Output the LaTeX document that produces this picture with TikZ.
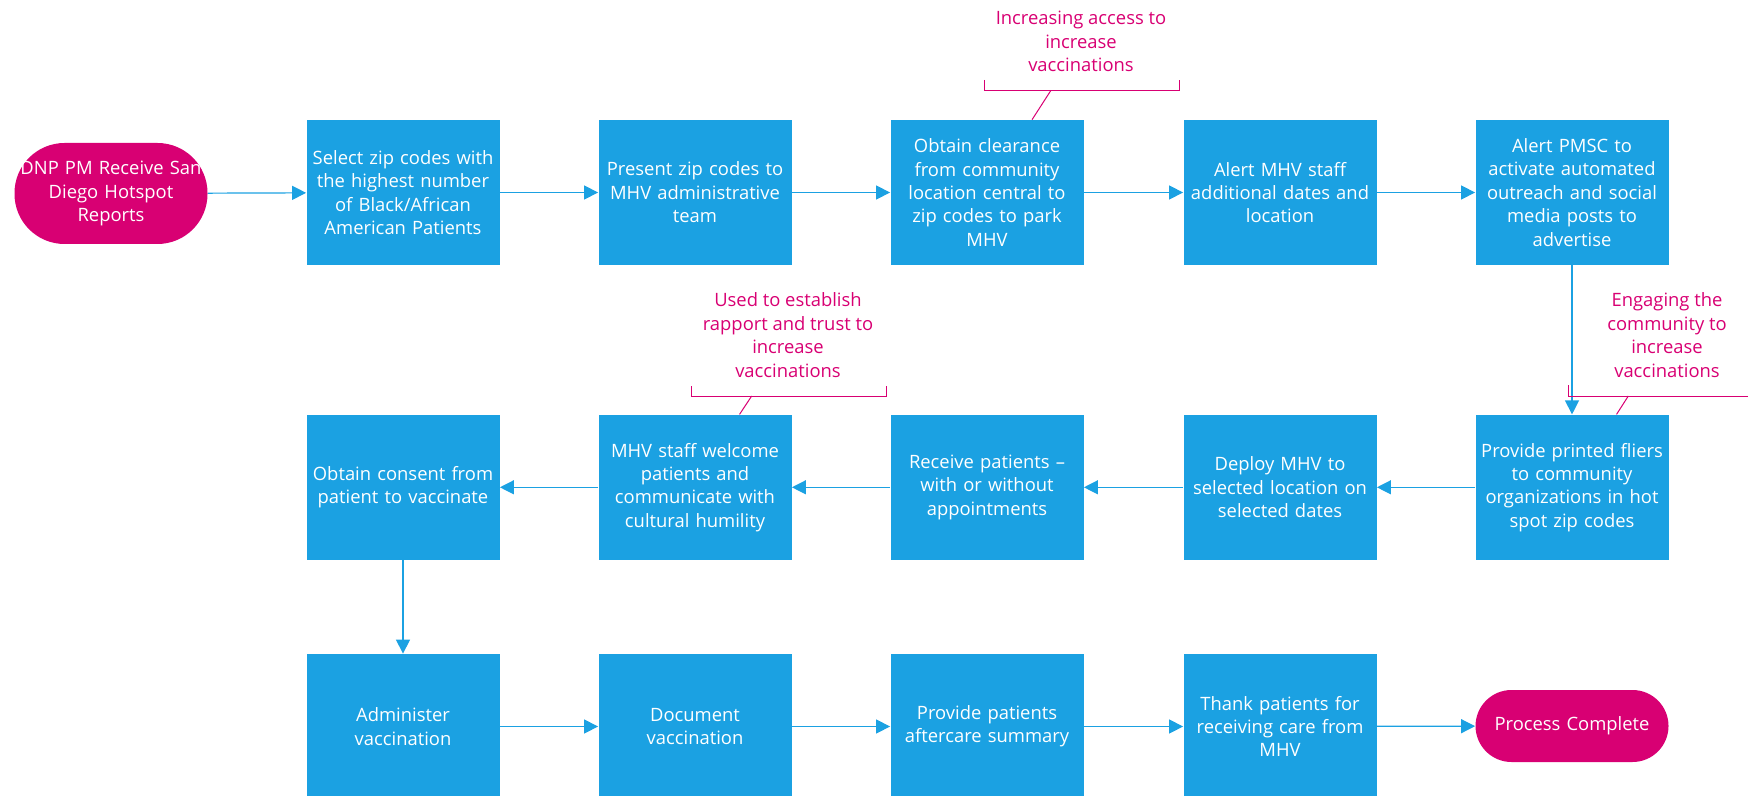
\documentclass[tikz,border=0pt]{standalone}
\usepackage{fontspec}
\setmainfont{Open Sans}
\usetikzlibrary{arrows.meta}
\definecolor{mhvblue}{HTML}{1BA1E2}
\definecolor{mhvpink}{HTML}{D80073}

\begin{document}
\begin{tikzpicture}[
    x=0.5pt, y=-0.5pt,
    >={Triangle[length=7pt,width=7pt]},
    font=\fontsize{9.2}{11.7}\selectfont,
    stepbox/.style={rectangle, fill=mhvblue, text=white,
                    minimum width=96.5pt, minimum height=72.5pt,
                    text width=96pt, align=center, inner sep=0pt},
    terminal/.style={rectangle, fill=mhvpink, text=white,
                     minimum width=96.5pt, text width=96pt,
                     align=center, inner sep=0pt},
    flow/.style={->, mhvblue, line width=0.6pt},
    note/.style={text=mhvpink, align=center},
    bracket/.style={mhvpink, line width=0.5pt},
]

\useasboundingbox (0,0) rectangle (1748,796);
\clip (0,0) rectangle (1748,796);

% ============================================================
% Row 1 (left to right)
% ============================================================
\node[terminal, minimum height=50.5pt, rounded corners=25pt] (start) at (111,193.5)
    {\makebox[\linewidth]{DNP PM Receive San}\\Diego Hotspot\\Reports};
\node[stepbox] (b1) at (403,192.5) {Select zip codes with\\the highest number\\of Black/African\\American Patients};
\node[stepbox] (b2) at (695,192.5) {Present zip codes to\\MHV administrative\\team};
\node[stepbox] (b3) at (987,192.5) {Obtain clearance\\from community\\location central to\\zip codes to park\\MHV};
\node[stepbox] (b4) at (1280,192.5) {Alert MHV staff\\additional dates and\\location};
\node[stepbox] (b5) at (1572,192.5) {Alert PMSC to\\activate automated\\outreach and social\\media posts to\\advertise};

% ============================================================
% Row 2 (right to left)
% ============================================================
\node[stepbox] (c5) at (1572,487.3) {Provide printed fliers\\to community\\organizations in hot\\spot zip codes};
\node[stepbox] (c4) at (1280,487.3) {Deploy MHV to\\selected location on\\selected dates};
\node[stepbox] (c3) at (987,487.3) {Receive patients --\\with or without\\appointments};
\node[stepbox] (c2) at (695,487.3) {MHV staff welcome\\patients and\\communicate with\\cultural humility};
\node[stepbox] (c1) at (403,487.3) {Obtain consent from\\patient to vaccinate};

% ============================================================
% Row 3 (left to right)
% ============================================================
\node[stepbox] (d1) at (403,726.5) {Administer\\vaccination};
\node[stepbox] (d2) at (695,726.5) {Document\\vaccination};
\node[stepbox] (d3) at (987,726.5) {Provide patients\\aftercare summary};
\node[stepbox] (d4) at (1280,726.5) {Thank patients for\\receiving care from\\MHV};
\node[terminal, minimum height=36pt, rounded corners=18pt] (finish) at (1572,726) {Process Complete};

% ============================================================
% Flow arrows
% ============================================================
\draw[flow] (start) -- (b1);
\draw[flow] (b1) -- (b2);
\draw[flow] (b2) -- (b3);
\draw[flow] (b3) -- (b4);
\draw[flow] (b4) -- (b5);
\draw[flow] (b5) -- (c5);
\draw[flow] (c5) -- (c4);
\draw[flow] (c4) -- (c3);
\draw[flow] (c3) -- (c2);
\draw[flow] (c2) -- (c1);
\draw[flow] (c1) -- (d1);
\draw[flow] (d1) -- (d2);
\draw[flow] (d2) -- (d3);
\draw[flow] (d3) -- (d4);
\draw[flow] (d4) -- (finish);

% ============================================================
% Annotations (bracket + tie line to the box)
% ============================================================
\node[note] (n1) at (1081,41.7) {Increasing access to\\increase\\vaccinations};
\draw[bracket] (984,80) |- (1179,90.7) -- (1179,80);
\coordinate (n1tie) at (1050.7,90.7);
\draw[bracket] (n1tie) -- ([xshift=71pt]b3.north west);

\node[note] (n2) at (788,335) {Used to establish\\rapport and trust to\\increase\\vaccinations};
\draw[bracket] (691.7,386) |- (886.7,396) -- (886.7,386);
\coordinate (n2tie) at (751.7,396);
\draw[bracket] (n2tie) -- ([xshift=70.7pt]c2.north west);

\node[note] (n3) at (1667,335) {Engaging the\\community to\\increase\\vaccinations};
\draw[bracket] (1568.3,385) |- (1763,396) -- (1763,385);
\coordinate (n3tie) at (1628.3,396);
\draw[bracket] (n3tie) -- ([xshift=70.7pt]c5.north west);

\end{tikzpicture}
\end{document}
